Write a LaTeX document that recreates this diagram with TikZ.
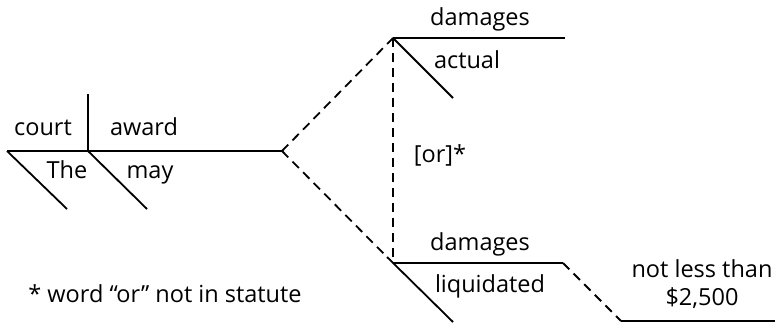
\documentclass[tikz,border=0pt]{standalone}
\usepackage{fontspec}
\setmainfont{Open Sans}
\begin{document}
\begin{tikzpicture}[x=1pt,y=-1pt,
  ln/.style={line width=1.8pt},
  dl/.style={line width=1.8pt,dash pattern=on 9pt off 6pt},
  wd/.style={font=\fontsize{23.5}{27}\selectfont,inner sep=0pt,anchor=base}]
\useasboundingbox (0,0) rectangle (775,324);
% coordinates
\coordinate (L0) at (7,151);
\coordinate (V) at (88,151);
\coordinate (Vt) at (88,94);
\coordinate (L1) at (282,151);
\coordinate (TheE) at (67,209);
\coordinate (mayE) at (147,209);
\coordinate (T) at (393,38);
\coordinate (TE) at (565,38);
\coordinate (actE) at (453,98);
\coordinate (B) at (393,263);
\coordinate (BE) at (563,263);
\coordinate (liqS) at (387,257);
\coordinate (liqE) at (453,322);
\coordinate (N0) at (621,321);
\coordinate (N1) at (775,321);
% lines
\draw[ln] (L0) -- (L1);
\draw[ln] (Vt) -- (V);
\draw[ln] (L0) -- (TheE);
\draw[ln] (V) -- (mayE);
\draw[dl] (L1) -- (T);
\draw[dl] (L1) -- (liqS);
\draw[dl] (T) -- (B);
\draw[ln] (T) -- (TE);
\draw[ln] (T) -- (actE);
\draw[ln] (B) -- (BE);
\draw[ln] (liqS) -- (liqE);
\draw[dl] (BE) -- (N0);
\draw[ln] (N0) -- (N1);
% words
\node[wd] (court) at (43,135) {court};
\node[wd] (award) at (144,135) {award};
\node[wd] (the) at (67,178) {The};
\node[wd] (may) at (150,178) {may};
\node[wd] (dam1) at (480,25) {damages};
\node[wd] (actual) at (467,68) {actual};
\node[wd] (or) at (440,162) {[or]*};
\node[wd] (dam2) at (480,250) {damages};
\node[wd] (liq) at (490,292) {liquidated};
\node[wd] (nlt) at (702,277) {not less than};
\node[wd] (amt) at (702,305) {\$2,500};
\node[wd] (foot) at (165,302) {* word “or” not in statute};
\end{tikzpicture}
\end{document}
